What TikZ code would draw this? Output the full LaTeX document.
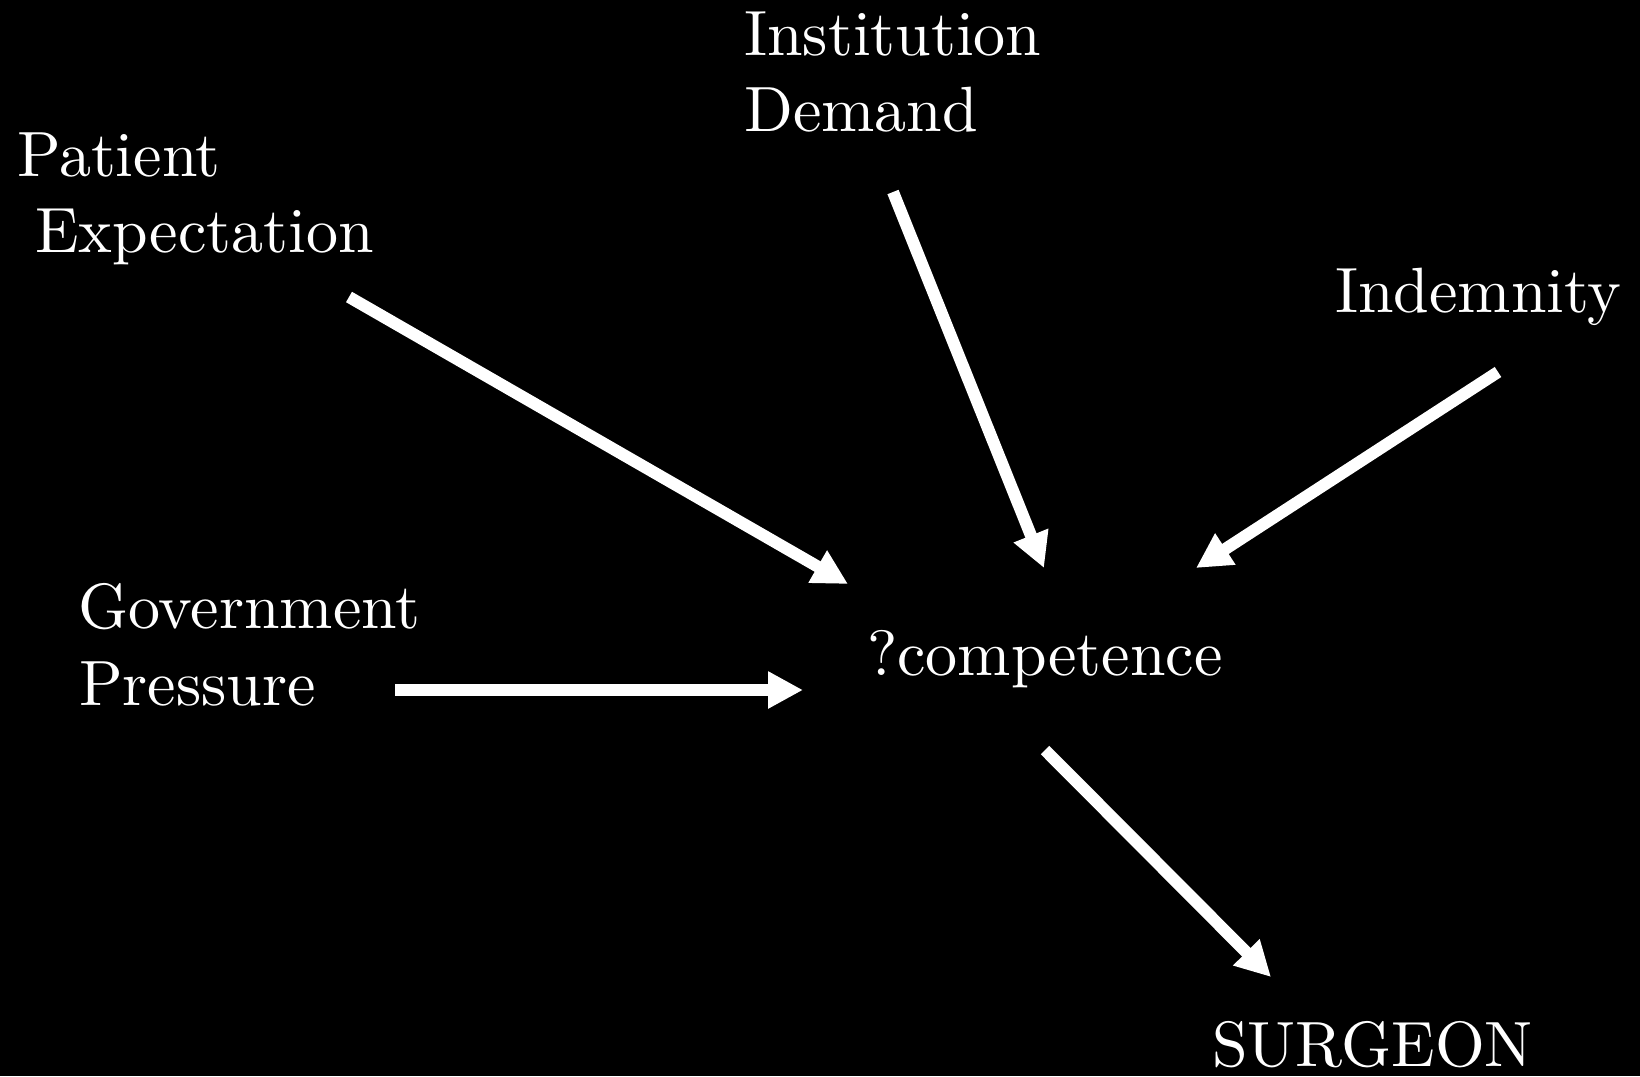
\documentclass[tikz,border=0pt]{standalone}
\usepackage{fontspec}
% the 10pt design of Latin Modern is wider than the display cut
\setmainfont{lmroman10-regular.otf}
\usetikzlibrary{arrows.meta}
\begin{document}
\begin{tikzpicture}[x=1pt,y=-1pt,
  label/.style={anchor=base west,inner sep=0pt,text=white,
    font=\fontsize{64}{76}\selectfont},
  push/.style={draw=white,line width=12pt,
    -{Triangle[length=35pt,width=35pt]}}]
  % page
  \fill[black] (0,0) rectangle (1640,1076);
  \useasboundingbox (0,0) rectangle (1640,1076);

  % pressures and the surgeon
  \node[label] (inst1) at (744,55)  {Institution};
  \node[label] (inst2) at (744,131) {Demand};
  \node[label] (pat1)  at (17,176)  {Patient};
  \node[label] (pat2)  at (35,252)  {Expectation};
  \node[label] (ind)   at (1335,312) {Indemnity};
  \node[label] (gov1)  at (78,628)  {Government};
  \node[label] (gov2)  at (79,705)  {Pressure};
  \node[label] (comp)  at (867,675) {?competence};
  \node[label] (surg)  at (1212,1066) {SURGEON};

  % arrow ends
  \coordinate (patS)  at (349,297);
  \coordinate (patE)  at (848,584);
  \coordinate (instS) at (893,192);
  \coordinate (instE) at (1044,568);
  \coordinate (indS)  at (1498,372);
  \coordinate (indE)  at (1196,568);
  \coordinate (govS)  at (395,690);
  \coordinate (govE)  at (803,690);
  \coordinate (compS) at (1045,750);
  \coordinate (surgE) at (1271,977);

  \draw[push] (patS)  -- (patE);
  \draw[push] (instS) -- (instE);
  \draw[push] (indS)  -- (indE);
  \draw[push] (govS)  -- (govE);
  \draw[push] (compS) -- (surgE);
\end{tikzpicture}
\end{document}
